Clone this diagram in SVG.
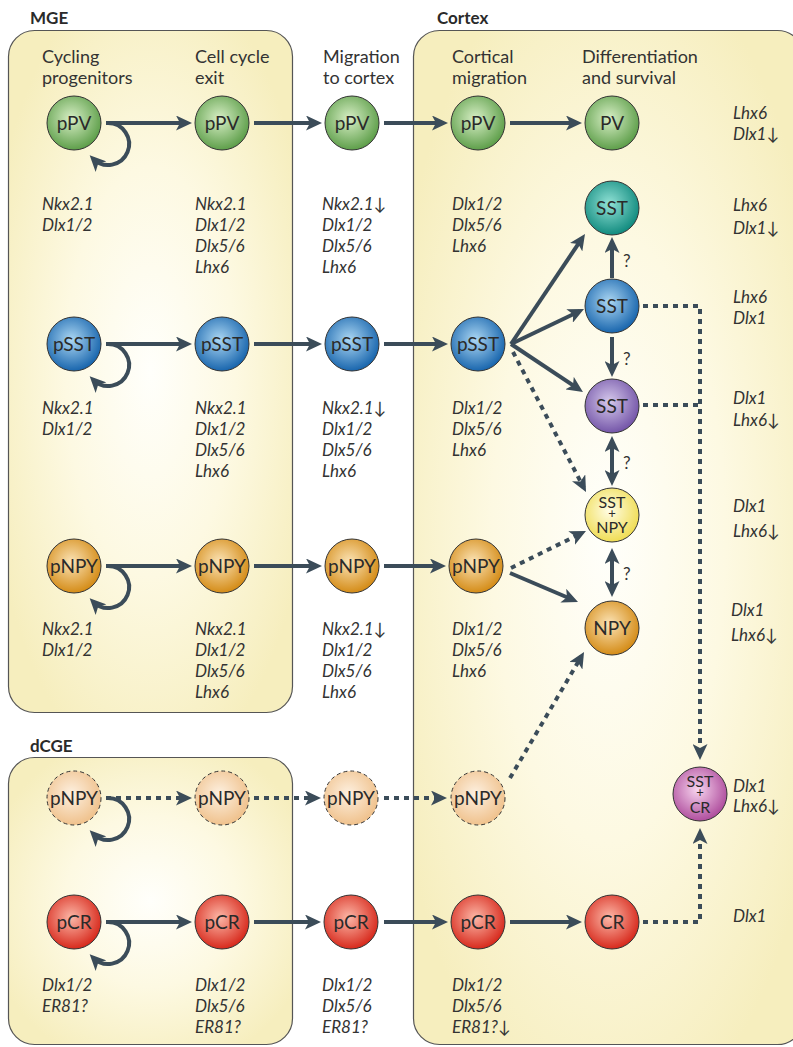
<svg xmlns="http://www.w3.org/2000/svg" width="793" height="1047" viewBox="0 0 793 1047">
<defs>
<style>
.box{stroke:#555;stroke-width:1.2;fill:url(#boxg)}
.title{font-family:Lato,"Liberation Sans",sans-serif;font-weight:bold;font-size:17px;fill:#2a2a2a}
.hdr{font-family:Lato,"Liberation Sans",sans-serif;font-size:18px;fill:#333}
.gene{font-family:Lato,"DejaVu Sans",sans-serif;font-style:italic;font-size:17px;fill:#333}
.nt{font-family:Lato,"Liberation Sans",sans-serif;font-size:19px;fill:#2a2a2a;text-anchor:middle}
.nts{font-family:Lato,"Liberation Sans",sans-serif;font-size:16px;fill:#2a2a2a;text-anchor:middle}
.q{font-family:Lato,"Liberation Sans",sans-serif;font-size:17px;fill:#333}
.c{stroke:#333;stroke-width:1}
.cd{stroke:#333;stroke-width:1;stroke-dasharray:4 3}
.a{fill:none;stroke:#3b4c59;stroke-width:4;marker-end:url(#ah)}
.d{fill:none;stroke:#3b4c59;stroke-width:4;stroke-dasharray:5 5}
.da{fill:none;stroke:#3b4c59;stroke-width:4;stroke-dasharray:5 5;marker-end:url(#ah)}
.bi{fill:none;stroke:#3b4c59;stroke-width:4;marker-end:url(#ah);marker-start:url(#ah)}
</style>
<marker id="ah" viewBox="0 0 16 15" refX="11" refY="7.5" markerWidth="16" markerHeight="15" markerUnits="userSpaceOnUse" orient="auto-start-reverse">
<path d="M0,0 L16,7.5 L0,15 L4,7.5 z" fill="#3b4c59"/>
</marker>
<radialGradient id="boxg" cx="50%" cy="50%" r="60%">
<stop offset="0" stop-color="#fffffb"/><stop offset="0.5" stop-color="#fdf9e2"/><stop offset="1" stop-color="#f6eebe"/>
</radialGradient>
<radialGradient id="gGreen" cx="45%" cy="42%" r="60%"><stop offset="0" stop-color="#d8efc6"/><stop offset="1" stop-color="#5a9c46"/></radialGradient>
<radialGradient id="gTeal" cx="45%" cy="42%" r="60%"><stop offset="0" stop-color="#92e2d6"/><stop offset="1" stop-color="#0d887c"/></radialGradient>
<radialGradient id="gBlue" cx="45%" cy="42%" r="60%"><stop offset="0" stop-color="#acd7f3"/><stop offset="1" stop-color="#1462ab"/></radialGradient>
<radialGradient id="gPurple" cx="45%" cy="42%" r="60%"><stop offset="0" stop-color="#d6c9ec"/><stop offset="1" stop-color="#7152a6"/></radialGradient>
<radialGradient id="gYellow" cx="45%" cy="42%" r="60%"><stop offset="0" stop-color="#fffde6"/><stop offset="1" stop-color="#efdc50"/></radialGradient>
<radialGradient id="gOrange" cx="45%" cy="42%" r="60%"><stop offset="0" stop-color="#fbe3b6"/><stop offset="1" stop-color="#d38912"/></radialGradient>
<radialGradient id="gLOrange" cx="45%" cy="42%" r="60%"><stop offset="0" stop-color="#fdf0e0"/><stop offset="1" stop-color="#efc08a"/></radialGradient>
<radialGradient id="gRed" cx="45%" cy="42%" r="60%"><stop offset="0" stop-color="#fcb8a8"/><stop offset="1" stop-color="#d62518"/></radialGradient>
<radialGradient id="gMag" cx="45%" cy="42%" r="60%"><stop offset="0" stop-color="#f7d4ee"/><stop offset="1" stop-color="#ad4a9b"/></radialGradient>
</defs>
<rect width="793" height="1047" fill="#fff"/>

<g id="regions">
<rect class="box" x="8.5" y="30.5" width="284" height="682" rx="26"/>
<rect class="box" x="8.5" y="757.5" width="284" height="287" rx="26"/>
<rect class="box" x="413.5" y="30.5" width="390" height="1014" rx="26"/>
<text class="title" x="30" y="24">MGE</text>
<text class="title" x="437" y="24">Cortex</text>
<text class="title" x="30" y="752">dCGE</text>
</g>

<g id="headers">
<text class="hdr" x="42" y="63">Cycling<tspan x="42" y="84">progenitors</tspan></text>
<text class="hdr" x="195" y="63">Cell cycle<tspan x="195" y="84">exit</tspan></text>
<text class="hdr" x="323" y="63">Migration<tspan x="323" y="84">to cortex</tspan></text>
<text class="hdr" x="452" y="63">Cortical<tspan x="452" y="84">migration</tspan></text>
<text class="hdr" x="582" y="63">Differentiation<tspan x="582" y="84">and survival</tspan></text>
</g>

<g id="connectors">
<!-- PV row -->
<path class="a" d="M106,123 H108 A21,21 0 1 1 93.2,158.8"/>
<path class="a" d="M106,123 H187"/>
<path class="a" d="M254,123 H317"/>
<path class="a" d="M384,123 H443"/>
<path class="a" d="M510,123 H577"/>
<!-- SST row -->
<path class="a" d="M106,344 H108 A21,21 0 1 1 93.2,379.8"/>
<path class="a" d="M106,344 H187"/>
<path class="a" d="M254,344 H317"/>
<path class="a" d="M384,344 H443"/>
<path class="a" d="M511,344 L582.2,238.1"/>
<path class="a" d="M511,344 L579.5,311.2"/>
<path class="a" d="M511,344 L578.8,389.2"/>
<path class="da" d="M513,352 L583.7,487.6"/>
<path class="a" d="M612,278 V242"/>
<path class="a" d="M612,337 V372"/>
<path class="bi" d="M612,441 V481"/>
<path class="bi" d="M612,553 V592"/>
<!-- NPY row -->
<path class="a" d="M106,566 H108 A21,21 0 1 1 93.2,601.8"/>
<path class="a" d="M106,566 H187"/>
<path class="a" d="M254,566 H317"/>
<path class="a" d="M384,566 H441"/>
<path class="da" d="M511,568 L581.5,533.2"/>
<path class="a" d="M510,573 L573.4,600"/>
<!-- dCGE NPY row -->
<path class="a" d="M106,798 H108 A21,21 0 1 1 93.2,833.8"/>
<path class="da" d="M106,798 H187"/>
<path class="da" d="M254,798 H316"/>
<path class="da" d="M384,798 H442"/>
<path class="da" d="M510,778 L581.5,656.3"/>
<!-- CR row -->
<path class="a" d="M106,922 H108 A21,21 0 1 1 93.2,957.8"/>
<path class="a" d="M106,922 H187"/>
<path class="a" d="M254,922 H316"/>
<path class="a" d="M384,922 H443"/>
<path class="a" d="M510,922 H577"/>
<!-- to SST+CR -->
<path class="d" d="M643,306 H700 V740"/>
<path class="da" d="M700,738 V755"/>
<path class="d" d="M643,405 H700"/>
<path class="da" d="M643,922 H700 V833"/>
<text class="q" x="623" y="267">?</text>
<text class="q" x="623" y="365">?</text>
<text class="q" x="623" y="469">?</text>
<text class="q" x="623" y="580">?</text>
</g>

<g id="n-pPV-1"><circle class="c" cx="74" cy="123" r="27" fill="url(#gGreen)"/><text class="nt" x="74" y="130">pPV</text></g>
<g id="n-pPV-2"><circle class="c" cx="222" cy="123" r="27" fill="url(#gGreen)"/><text class="nt" x="222" y="130">pPV</text></g>
<g id="n-pPV-3"><circle class="c" cx="352" cy="123" r="27" fill="url(#gGreen)"/><text class="nt" x="352" y="130">pPV</text></g>
<g id="n-pPV-4"><circle class="c" cx="478" cy="123" r="27" fill="url(#gGreen)"/><text class="nt" x="478" y="130">pPV</text></g>
<g id="n-PV"><circle class="c" cx="612" cy="123" r="27" fill="url(#gGreen)"/><text class="nt" x="612" y="130">PV</text></g>

<g id="n-pSST-1"><circle class="c" cx="74" cy="344" r="27" fill="url(#gBlue)"/><text class="nt" x="74" y="351">pSST</text></g>
<g id="n-pSST-2"><circle class="c" cx="222" cy="344" r="27" fill="url(#gBlue)"/><text class="nt" x="222" y="351">pSST</text></g>
<g id="n-pSST-3"><circle class="c" cx="352" cy="344" r="27" fill="url(#gBlue)"/><text class="nt" x="352" y="351">pSST</text></g>
<g id="n-pSST-4"><circle class="c" cx="478" cy="344" r="27" fill="url(#gBlue)"/><text class="nt" x="478" y="351">pSST</text></g>
<g id="n-SST-teal"><circle class="c" cx="612" cy="208" r="27" fill="url(#gTeal)"/><text class="nt" x="612" y="215">SST</text></g>
<g id="n-SST-blue"><circle class="c" cx="612" cy="306" r="27" fill="url(#gBlue)"/><text class="nt" x="612" y="313">SST</text></g>
<g id="n-SST-purple"><circle class="c" cx="612" cy="406" r="27" fill="url(#gPurple)"/><text class="nt" x="612" y="413">SST</text></g>
<g id="n-SST-NPY"><circle class="c" cx="612" cy="515" r="27" fill="url(#gYellow)"/><text class="nts" x="612" y="508">SST<tspan x="612" y="518" style="font-size:13px">+</tspan><tspan x="612" y="533">NPY</tspan></text></g>

<g id="n-pNPY-1"><circle class="c" cx="74" cy="566" r="27" fill="url(#gOrange)"/><text class="nt" x="74" y="573">pNPY</text></g>
<g id="n-pNPY-2"><circle class="c" cx="222" cy="566" r="27" fill="url(#gOrange)"/><text class="nt" x="222" y="573">pNPY</text></g>
<g id="n-pNPY-3"><circle class="c" cx="352" cy="566" r="27" fill="url(#gOrange)"/><text class="nt" x="352" y="573">pNPY</text></g>
<g id="n-pNPY-4"><circle class="c" cx="476" cy="566" r="27" fill="url(#gOrange)"/><text class="nt" x="476" y="573">pNPY</text></g>
<g id="n-NPY"><circle class="c" cx="612" cy="628" r="27" fill="url(#gOrange)"/><text class="nt" x="612" y="635">NPY</text></g>

<g id="n-dpNPY-1"><circle class="cd" cx="74" cy="798" r="27" fill="url(#gLOrange)"/><text class="nt" x="74" y="805">pNPY</text></g>
<g id="n-dpNPY-2"><circle class="cd" cx="222" cy="798" r="27" fill="url(#gLOrange)"/><text class="nt" x="222" y="805">pNPY</text></g>
<g id="n-dpNPY-3"><circle class="cd" cx="351" cy="798" r="27" fill="url(#gLOrange)"/><text class="nt" x="351" y="805">pNPY</text></g>
<g id="n-dpNPY-4"><circle class="cd" cx="478" cy="798" r="27" fill="url(#gLOrange)"/><text class="nt" x="478" y="805">pNPY</text></g>

<g id="n-pCR-1"><circle class="c" cx="74" cy="922" r="27" fill="url(#gRed)"/><text class="nt" x="74" y="929">pCR</text></g>
<g id="n-pCR-2"><circle class="c" cx="222" cy="922" r="27" fill="url(#gRed)"/><text class="nt" x="222" y="929">pCR</text></g>
<g id="n-pCR-3"><circle class="c" cx="351" cy="922" r="27" fill="url(#gRed)"/><text class="nt" x="351" y="929">pCR</text></g>
<g id="n-pCR-4"><circle class="c" cx="478" cy="922" r="27" fill="url(#gRed)"/><text class="nt" x="478" y="929">pCR</text></g>
<g id="n-CR"><circle class="c" cx="612" cy="922" r="27" fill="url(#gRed)"/><text class="nt" x="612" y="929">CR</text></g>
<g id="n-SST-CR"><circle class="c" cx="700" cy="794" r="27" fill="url(#gMag)"/><text class="nts" x="700" y="787">SST<tspan x="700" y="797" style="font-size:13px">+</tspan><tspan x="700" y="813">CR</tspan></text></g>

<g id="genes">
<text class="gene" x="42" y="210">Nkx2.1<tspan x="42" y="231">Dlx1/2</tspan></text>
<text class="gene" x="195" y="210">Nkx2.1<tspan x="195" y="231">Dlx1/2</tspan><tspan x="195" y="252">Dlx5/6</tspan><tspan x="195" y="273">Lhx6</tspan></text>
<text class="gene" x="322" y="210">Nkx2.1↓<tspan x="322" y="231">Dlx1/2</tspan><tspan x="322" y="252">Dlx5/6</tspan><tspan x="322" y="273">Lhx6</tspan></text>
<text class="gene" x="452" y="210">Dlx1/2<tspan x="452" y="231">Dlx5/6</tspan><tspan x="452" y="252">Lhx6</tspan></text>

<text class="gene" x="42" y="414">Nkx2.1<tspan x="42" y="435">Dlx1/2</tspan></text>
<text class="gene" x="195" y="414">Nkx2.1<tspan x="195" y="435">Dlx1/2</tspan><tspan x="195" y="456">Dlx5/6</tspan><tspan x="195" y="477">Lhx6</tspan></text>
<text class="gene" x="322" y="414">Nkx2.1↓<tspan x="322" y="435">Dlx1/2</tspan><tspan x="322" y="456">Dlx5/6</tspan><tspan x="322" y="477">Lhx6</tspan></text>
<text class="gene" x="452" y="414">Dlx1/2<tspan x="452" y="435">Dlx5/6</tspan><tspan x="452" y="456">Lhx6</tspan></text>

<text class="gene" x="42" y="635">Nkx2.1<tspan x="42" y="656">Dlx1/2</tspan></text>
<text class="gene" x="195" y="635">Nkx2.1<tspan x="195" y="656">Dlx1/2</tspan><tspan x="195" y="677">Dlx5/6</tspan><tspan x="195" y="698">Lhx6</tspan></text>
<text class="gene" x="322" y="635">Nkx2.1↓<tspan x="322" y="656">Dlx1/2</tspan><tspan x="322" y="677">Dlx5/6</tspan><tspan x="322" y="698">Lhx6</tspan></text>
<text class="gene" x="452" y="635">Dlx1/2<tspan x="452" y="656">Dlx5/6</tspan><tspan x="452" y="677">Lhx6</tspan></text>

<text class="gene" x="42" y="991">Dlx1/2<tspan x="42" y="1012">ER81?</tspan></text>
<text class="gene" x="195" y="991">Dlx1/2<tspan x="195" y="1012">Dlx5/6</tspan><tspan x="195" y="1033">ER81?</tspan></text>
<text class="gene" x="322" y="991">Dlx1/2<tspan x="322" y="1012">Dlx5/6</tspan><tspan x="322" y="1033">ER81?</tspan></text>
<text class="gene" x="452" y="991">Dlx1/2<tspan x="452" y="1012">Dlx5/6</tspan><tspan x="452" y="1033">ER81?↓</tspan></text>

<text class="gene" x="733" y="119">Lhx6<tspan x="733" y="140">Dlx1↓</tspan></text>
<text class="gene" x="733" y="211">Lhx6<tspan x="733" y="234">Dlx1↓</tspan></text>
<text class="gene" x="733" y="303">Lhx6<tspan x="733" y="324">Dlx1</tspan></text>
<text class="gene" x="733" y="404">Dlx1<tspan x="733" y="426">Lhx6↓</tspan></text>
<text class="gene" x="733" y="512">Dlx1<tspan x="733" y="537">Lhx6↓</tspan></text>
<text class="gene" x="731" y="616">Dlx1<tspan x="731" y="641">Lhx6↓</tspan></text>
<text class="gene" x="733" y="792">Dlx1<tspan x="733" y="812">Lhx6↓</tspan></text>
<text class="gene" x="733" y="922">Dlx1</text>
</g>
</svg>
